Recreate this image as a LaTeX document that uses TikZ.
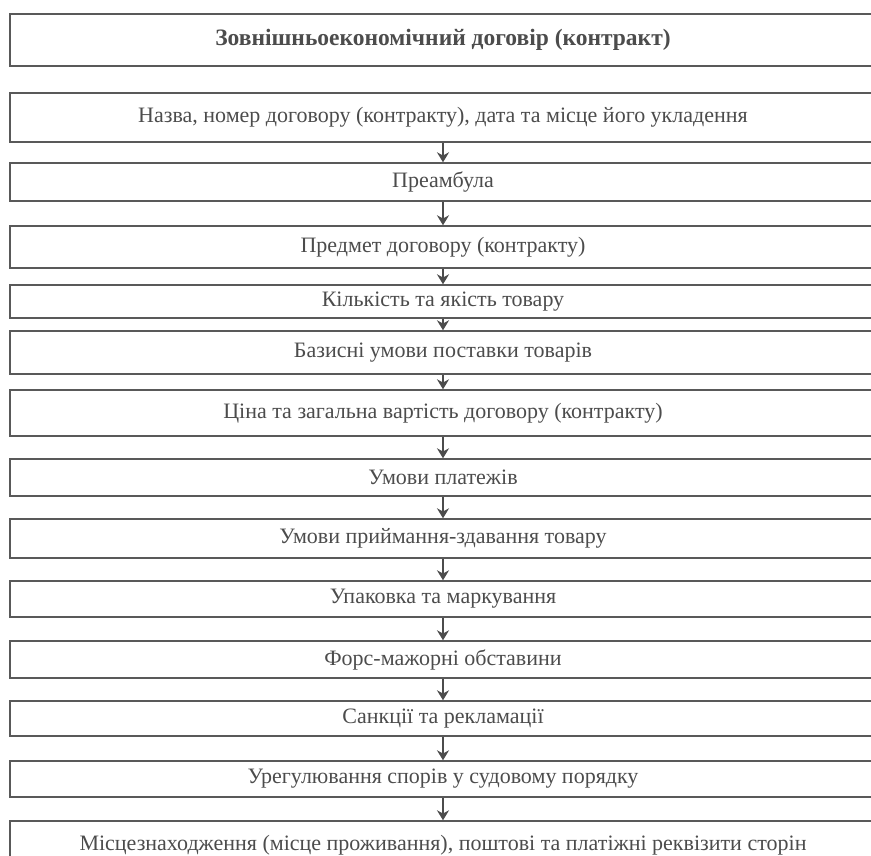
\documentclass[tikz,border=0pt]{standalone}
\usepackage{fontspec}
\setmainfont{Liberation Serif}
\usetikzlibrary{arrows.meta}

\begin{document}
\begin{tikzpicture}[x=1pt,y=-1pt,
    row/.style={draw=black!65,line width=1.4pt,minimum width=866pt,inner sep=0pt,
      text=black!70,font=\fontsize{22}{26}\selectfont},
    head/.style={row,font=\fontsize{23.5}{27}\selectfont\bfseries},
    nxt/.style={draw=black!70,line width=1.6pt,-{Stealth[length=10pt,width=12pt]}}]
  \useasboundingbox (0,0) rectangle (871,856);
  \clip (0,0) rectangle (871,856);

  % heading
  \node[head,minimum height=52pt] (r1) at (443,40) {Зовнішньоекономічний договір (контракт)};

  % sections of the contract
  \node[row,minimum height=49pt] (r2) at (443,117.5) {Назва, номер договору (контракту), дата та місце його укладення};
  \node[row,minimum height=38pt] (r3) at (443,182) {Преамбула};
  \node[row,minimum height=42pt] (r4) at (443,247) {Предмет договору (контракту)};
  \node[row,minimum height=33pt] (r5) at (443,301.5) {Кількість та якість товару};
  \node[row,minimum height=43pt] (r6) at (443,352.5) {Базисні умови поставки товарів};
  \node[row,minimum height=46pt] (r7) at (443,413) {Ціна та загальна вартість договору (контракту)};
  \node[row,minimum height=37pt] (r8) at (443,477.5) {Умови платежів};
  \node[row,minimum height=39pt] (r9) at (443,538.5) {Умови приймання-здавання товару};
  \node[row,minimum height=36pt] (r10) at (443,599) {Упаковка та маркування};
  \node[row,minimum height=37pt] (r11) at (443,659.5) {Форс-мажорні обставини};
  \node[row,minimum height=35pt] (r12) at (443,718.5) {Санкції та рекламації};
  \node[row,minimum height=36pt] (r13) at (443,779) {Урегулювання спорів у судовому порядку};
  \node[row,minimum height=49pt] (r14) at (443,845.5) {Місцезнаходження (місце проживання), поштові та платіжні реквізити сторін};

  % arrows between sections
  \foreach \a/\b in {r2/r3,r3/r4,r4/r5,r5/r6,r6/r7,r7/r8,r8/r9,r9/r10,r10/r11,r11/r12,r12/r13,r13/r14}
    \draw[nxt] (\a) -- (\b);
\end{tikzpicture}
\end{document}
